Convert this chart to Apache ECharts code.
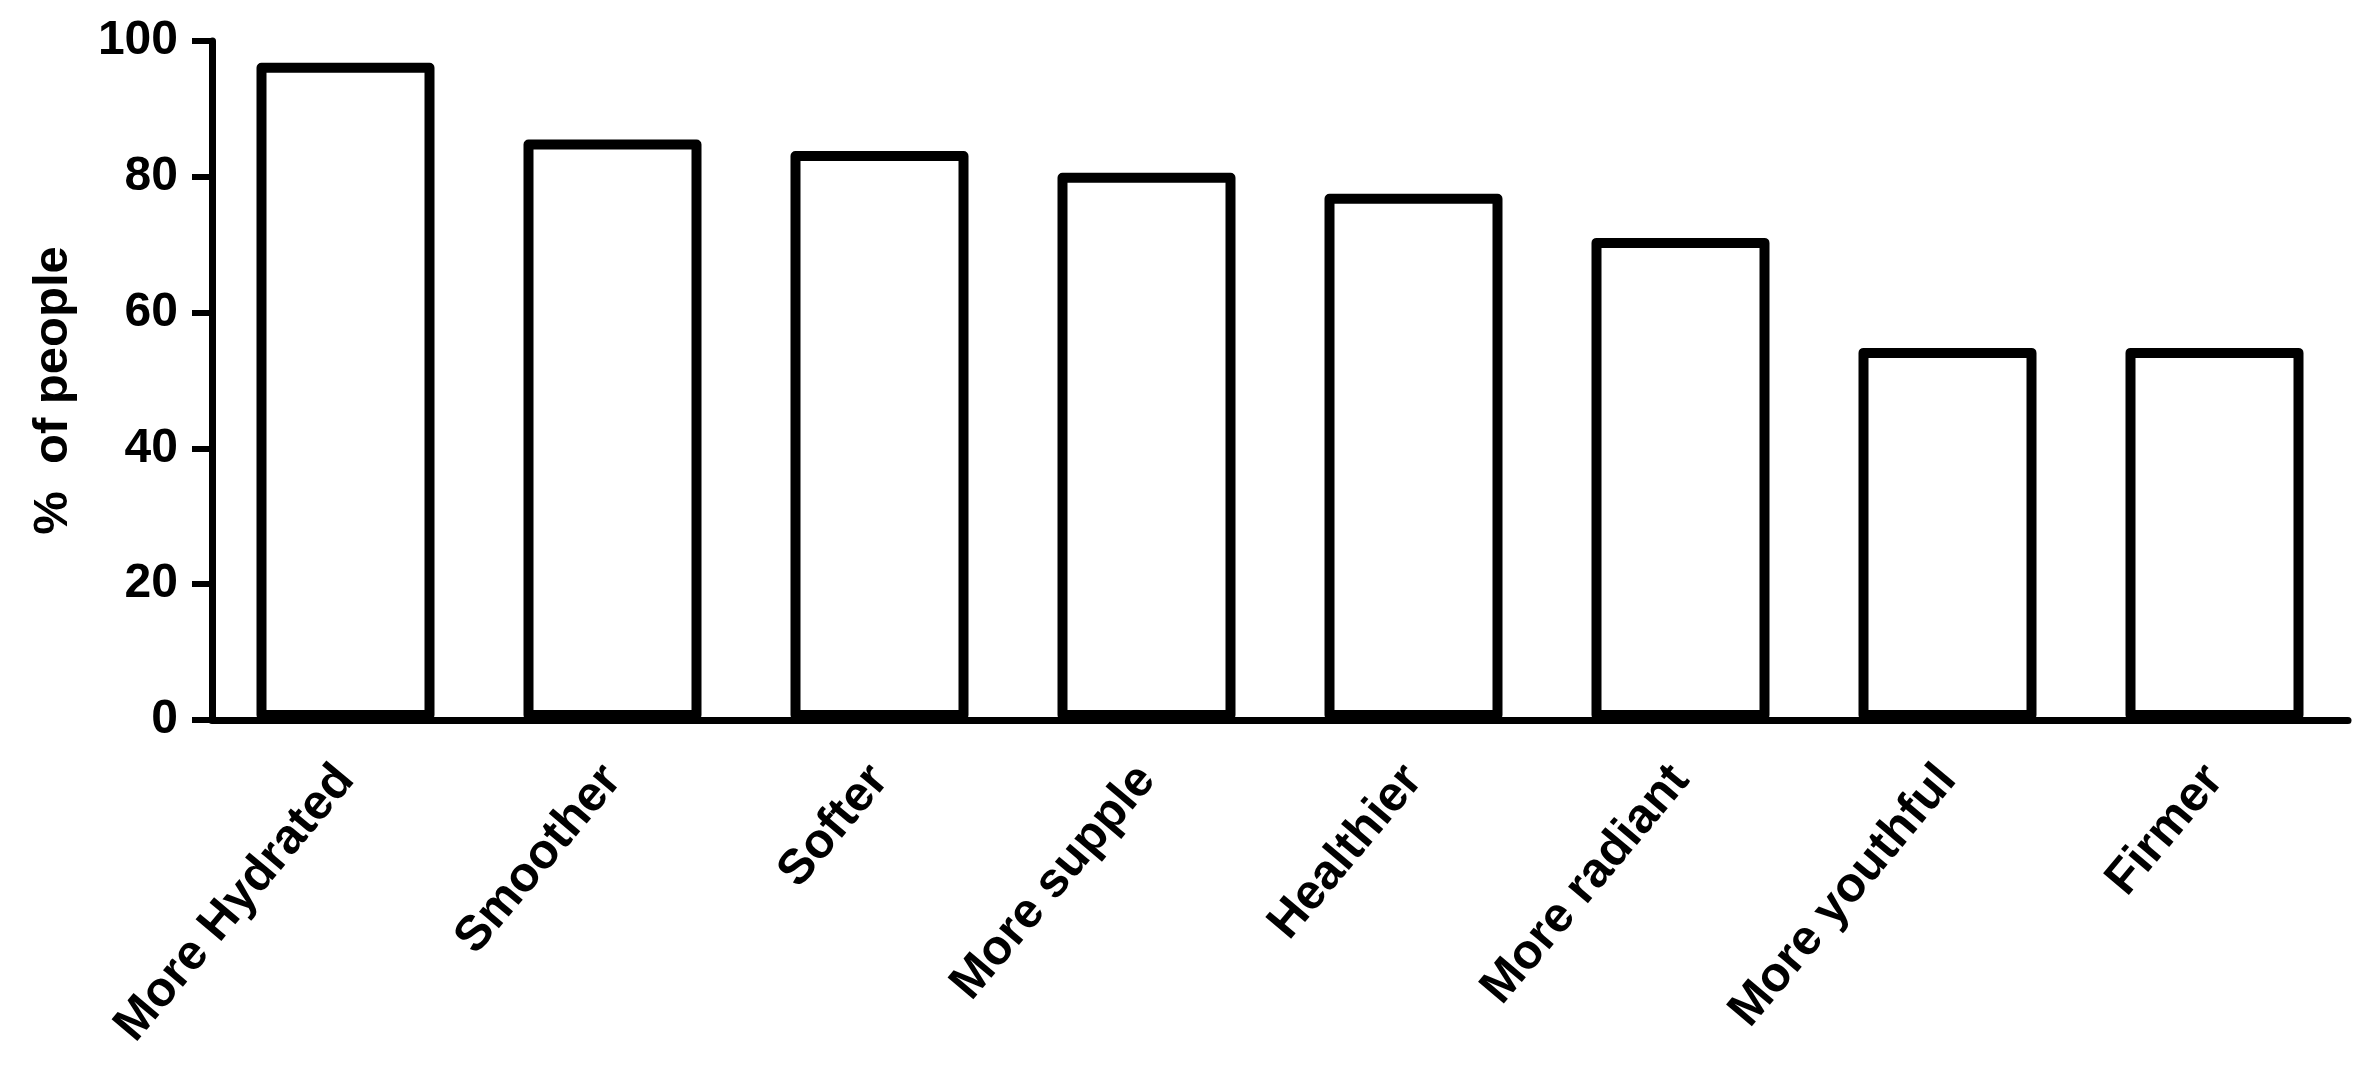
<!DOCTYPE html>
<html>
<head>
<meta charset="utf-8">
<script src="https://cdn.jsdelivr.net/npm/echarts@6/dist/echarts.min.js"></script>
<style>
  html, body { margin: 0; padding: 0; background: #fff; }
  #chart { width: 2375px; height: 1092px; }
</style>
</head>
<body>
<div id="chart"></div>
<script>
// categories along the x axis
const categories = ['More Hydrated', 'Smoother', 'Softer', 'More supple', 'Healthier', 'More radiant', 'More youthful', 'Firmer']
// % of people
const percentValues = [96.8, 85.5, 83.8, 80.6, 77.5, 71.0, 54.8, 54.8]
const yTicks = [0, 20, 40, 60, 80, 100]

const chart = echarts.init(document.getElementById('chart'))

chart.setOption({
  animation: false,
  grid: {
    left: 212,
    right: 27,
    top: 41,
    bottom: 372
  },
  xAxis: {
    type: 'category',
    data: categories,
    boundaryGap: true,
    axisLine: { lineStyle: { color: '#000', width: 7 } },
    axisTick: {
      alignWithLabel: true,
      length: 24,
      lineStyle: { color: '#000', width: 4 }
    },
    axisLabel: {
      rotate: 50,
      margin: 52,
      color: '#000',
      fontFamily: 'Liberation Sans, Arial, sans-serif',
      fontWeight: 'bold',
      fontSize: 49
    }
  },
  yAxis: {
    type: 'value',
    min: yTicks[0],
    max: yTicks[yTicks.length - 1],
    interval: 20,
    name: '%  of people',
    nameLocation: 'middle',
    nameGap: 134,
    nameTextStyle: {
      color: '#000',
      fontFamily: 'Liberation Sans, Arial, sans-serif',
      fontWeight: 'bold',
      fontSize: 49,
      // nudges the rotated name a little lower, like the picture
      padding: [0, 20, 0, 0]
    },
    splitLine: { show: false },
    axisLine: { show: true, lineStyle: { color: '#000', width: 7 } },
    axisTick: { show: true, length: 20, lineStyle: { color: '#000', width: 6 } },
    axisLabel: {
      margin: 34,
      color: '#000',
      fontFamily: 'Liberation Sans, Arial, sans-serif',
      fontWeight: 'bold',
      fontSize: 48
    }
  },
  series: [{
    type: 'bar',
    data: percentValues,
    barWidth: 178,
    itemStyle: {
      color: '#fff',
      borderColor: '#000',
      borderWidth: 10,
      borderJoin: 'round'
    }
  }]
})
</script>
</body>
</html>
